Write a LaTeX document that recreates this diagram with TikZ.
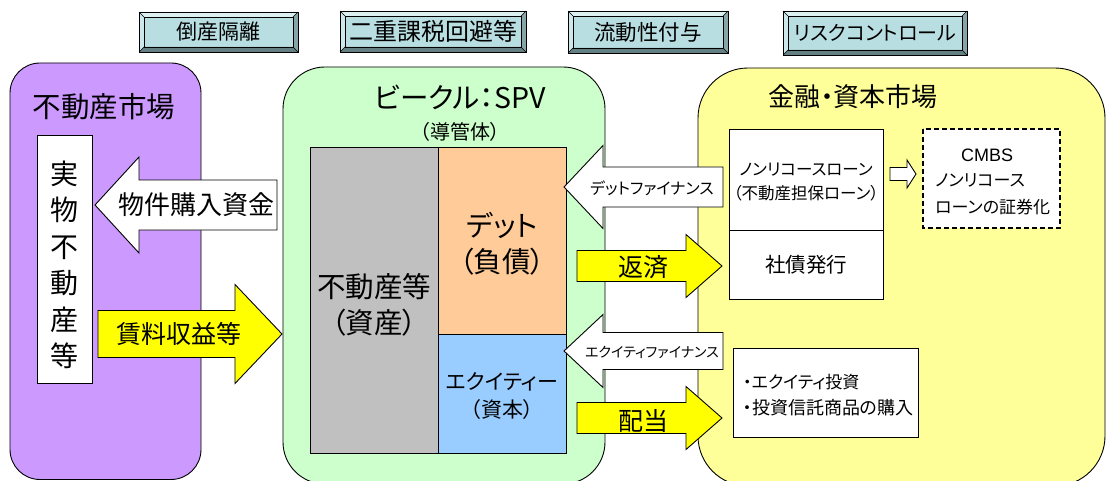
\documentclass[tikz,border=0pt]{standalone}
\usepackage{fontspec}
\setmainfont{Noto Sans CJK JP}[RawFeature=+palt]
\newfontfamily\latinfont{Liberation Sans}
\definecolor{purp}{RGB}{204,153,255}
\definecolor{grn}{RGB}{204,255,204}
\definecolor{yel}{RGB}{255,255,153}
\definecolor{gry}{RGB}{192,192,192}
\definecolor{org}{RGB}{255,204,153}
\definecolor{blu}{RGB}{153,204,255}
\definecolor{yarrow}{RGB}{255,255,0}
\definecolor{btn}{RGB}{185,222,226}
\definecolor{btnlt}{RGB}{220,240,242}
\definecolor{btnlf}{RGB}{205,232,235}
\definecolor{btndk}{RGB}{100,128,130}
\definecolor{btnrt}{RGB}{135,165,168}
\newcommand{\bevbtn}[6]{%
  \fill[btn] (#2,#3) rectangle (#4,#5);
  \fill[btnlt] (#2,#3) -- (#4,#3) -- ({#4-5},{#3+5}) -- ({#2+5},{#3+5}) -- cycle;
  \fill[btnlf] (#2,#3) -- ({#2+5},{#3+5}) -- ({#2+5},{#5-5}) -- (#2,#5) -- cycle;
  \fill[btndk] (#2,#5) -- ({#2+5},{#5-5}) -- ({#4-5},{#5-5}) -- (#4,#5) -- cycle;
  \fill[btnrt] (#4,#3) -- (#4,#5) -- ({#4-5},{#5-5}) -- ({#4-5},{#3+5}) -- cycle;
  \draw[line width=0.6pt] ({#2+5},{#3+5}) rectangle ({#4-5},{#5-5});
  \draw[line width=0.6pt] (#2,#3) -- ({#2+5},{#3+5}) (#4,#3) -- ({#4-5},{#3+5})
     (#2,#5) -- ({#2+5},{#5-5}) (#4,#5) -- ({#4-5},{#5-5});
  \draw[line width=0.9pt] (#2,#3) rectangle (#4,#5);
  \node[inner sep=0] (#1) at ({(#2+#4)/2},{(#3+#5)/2}) {#6};}
% block arrow: tipx, cy, headbase, headhalf, shafthalf, tailx, fill
\newcommand{\blkarrow}[7]{%
  \draw[ol, fill=#7] (#1,#2) -- (#3,{#2-#4}) -- (#3,{#2-#5}) -- (#6,{#2-#5})
    -- (#6,{#2+#5}) -- (#3,{#2+#5}) -- (#3,{#2+#4}) -- cycle;}
\begin{document}
\begin{tikzpicture}[x=1pt,y=-1pt, line join=miter,
  fs/.style={font=\fontsize{#1}{#1}\selectfont},
  ol/.style={draw=black, line width=0.9pt}]
\useasboundingbox (0,0) rectangle (1107,481);
\fill[white] (0,0) rectangle (1107,481);
% top buttons
\bevbtn{b1}{139}{12}{298}{52}{\fontsize{21}{21}\selectfont 倒産隔離}
\bevbtn{b2}{340}{11}{526}{52}{\fontsize{24}{24}\selectfont 二重課税回避等}
\bevbtn{b3}{568}{11}{728}{53}{\fontsize{21.5}{21.5}\selectfont 流動性付与}
\bevbtn{b4}{783}{11}{967}{55}{\fontsize{20}{20}\selectfont リスクコントロール}
% panels
\draw[ol, fill=purp, rounded corners=30] (10,63) rectangle (201,479.5);
\draw[ol, fill=grn, rounded corners=42] (283,67) rectangle (605,484);
\draw[ol, fill=yel, rounded corners=50] (698,68) rectangle (1105,486);
\node[fs=28.5, inner sep=0] (t1) at (104,107) {不動産市場};
\node[fs=28.5, inner sep=0] (t2) at (460,97) {ビークル：SPV};
\node[fs=20, inner sep=0] (t2b) at (460,132) {（導管体）};
\node[fs=26, inner sep=0] (t3) at (853,97) {金融・資本市場};
% real estate box
\draw[ol, fill=white] (37,135) rectangle (92,383);
\node[font=\fontsize{28}{36.5}\selectfont, align=center] (jitsu) at (64.5,265) {実\\物\\不\\動\\産\\等};
% SPV balance sheet
\draw[ol, fill=gry] (310,147) rectangle (438,453);
\draw[ol, fill=org] (438,147) rectangle (566,334);
\draw[ol, fill=blu] (438,334) rectangle (566,453);
\node[fs=28.5] (as1) at (374,287) {不動産等};
\node[fs=28.5] (as2) at (374,323) {（資産）};
\node[fs=28.5] (db1) at (502,225) {デット};
\node[fs=28.5] (db2) at (502,262) {（負債）};
\node[fs=21] (eq1) at (502,382) {エクイティー};
\node[fs=21] (eq2) at (502,410) {（資本）};
% market boxes
\draw[ol, fill=white] (729,129) rectangle (883,230);
\draw[ol, fill=white] (729,230) rectangle (883,299);
\node[fs=16.5] (nr1) at (806,170) {ノンリコースローン};
\node[fs=16.5] (nr2) at (806,193) {（不動産担保ローン）};
\node[fs=20.5] (bond) at (806,265) {社債発行};
\draw[black, line width=1.8pt, dash pattern=on 5pt off 3pt, fill=white] (923,129) rectangle (1060,228);
\node[font=\latinfont\fontsize{18}{18}\selectfont] (cm1) at (987,155) {CMBS};
\node[fs=17, anchor=west, inner sep=0] (cm2) at (935,180) {ノンリコース};
\node[fs=17, anchor=west, inner sep=0] (cm3) at (935,207) {ローンの証券化};
\draw[ol, fill=white] (733,348) rectangle (918,437);
\node[fs=17, anchor=west, inner sep=0] (iv1) at (743,382) {・エクイティ投資};
\node[fs=18, anchor=west, inner sep=0] (iv2) at (743,408) {・投資信託商品の購入};
% small arrow
\blkarrow{916}{174}{907}{14}{6.5}{890}{white}
% block arrows
\blkarrow{95}{205}{139}{48}{25}{277}{white}
\node[fs=26] (a1) at (196,205) {物件購入資金};
\blkarrow{282}{334}{235}{49.5}{23.5}{98}{yarrow}
\node[fs=25] (a2) at (179,334) {賃料収益等};
\blkarrow{564}{187}{603}{41.5}{20}{723}{white}
\node[fs=16] (a3) at (652,188) {デットファイナンス};
\blkarrow{722}{266}{686}{31.5}{15.5}{577}{yarrow}
\node[fs=25] (a4) at (643,267) {返済};
\blkarrow{564}{351}{603}{36.5}{18.5}{723}{white}
\node[fs=14] (a5) at (652,352) {エクイティファイナンス};
\blkarrow{722}{418}{686}{31.5}{15.5}{577}{yarrow}
\node[fs=25] (a6) at (643,421) {配当};
\end{tikzpicture}
\end{document}
